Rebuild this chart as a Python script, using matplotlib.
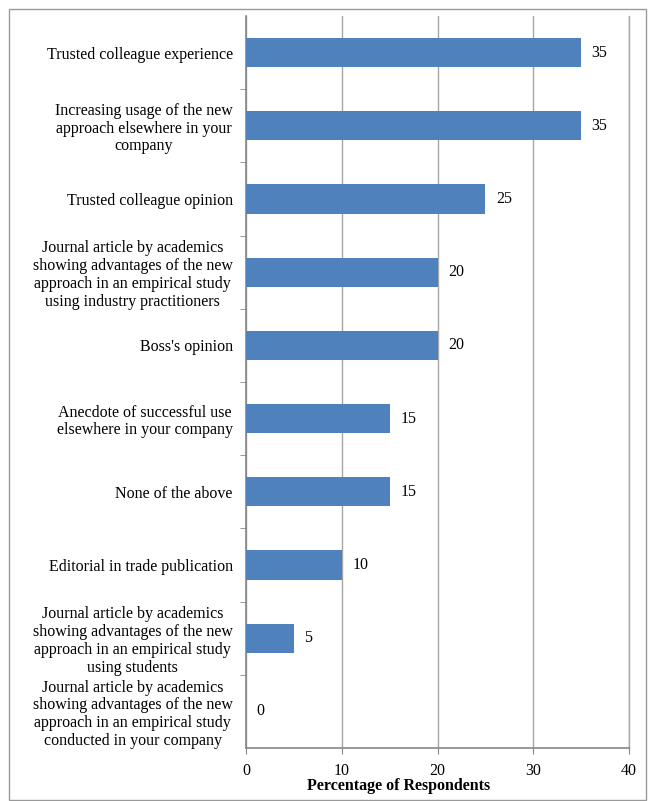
import matplotlib.pyplot as plt
from matplotlib.patches import Rectangle

# survey answers, top to bottom
labels = [
    "Trusted colleague experience",
    "Increasing usage of the new\napproach elsewhere in your\ncompany",
    "Trusted colleague opinion",
    "Journal article by academics\nshowing advantages of the new\napproach in an empirical study\nusing industry practitioners",
    "Boss's opinion",
    "Anecdote of successful use\nelsewhere in your company",
    "None of the above",
    "Editorial in trade publication",
    "Journal article by academics\nshowing advantages of the new\napproach in an empirical study\nusing students",
    "Journal article by academics\nshowing advantages of the new\napproach in an empirical study\nconducted in your company",
]
values = [35, 35, 25, 20, 20, 15, 15, 10, 5, 0]
xticks = [0, 10, 20, 30, 40]

plt.rcParams['font.family'] = ['Liberation Serif', 'DejaVu Serif']
fs = 11.5

fig = plt.figure(figsize=(6.51, 8.01), dpi=100)
ax = fig.add_axes([246/651, 1-748/801, (629-246)/651, (748-16)/801])

pos = list(range(len(values)))
ax.barh(pos, values, height=0.4, color='#4F81BD', zorder=3)
for p, v in zip(pos, values):
    ax.text(v + 1.1, p, str(v), va='center', ha='left', fontsize=fs)

ax.set_xlim(0, 40)
ax.set_ylim(len(values) - 0.5, -0.5)
ax.set_xticks(xticks)
ax.set_xticklabels([str(t) for t in xticks], fontsize=fs)
ax.set_yticks(pos)
ax.set_yticklabels(labels, fontsize=fs, linespacing=1.15)
for t in ax.get_yticklabels():
    t.set_multialignment('center')
ax.set_yticks([p + 0.5 for p in pos[:-1]], minor=True)
ax.tick_params(axis='y', which='major', length=0, pad=9.5)
ax.tick_params(axis='y', which='minor', length=4, color='#868686')
ax.tick_params(axis='x', length=4, color='#868686', pad=7)

ax.grid(axis='x', color='#A6A6A6', linewidth=1, zorder=0)
ax.axvline(40, color='#A6A6A6', linewidth=1, zorder=0, clip_on=False)
for s in ['top', 'right']:
    ax.spines[s].set_visible(False)
for s in ['left', 'bottom']:
    ax.spines[s].set_color('#868686')
    ax.spines[s].set_linewidth(1.2)

fig.text(399/651, 1-786/801, "Percentage of Respondents", ha='center', va='center',
         fontsize=fs, fontweight='bold')

# frame around the whole chart
fig.patches.append(Rectangle((9/651, 1/801), 637/651, 791/801, transform=fig.transFigure,
                             fill=False, edgecolor='#999999', linewidth=1))

fig.savefig('out.png', dpi=100)
